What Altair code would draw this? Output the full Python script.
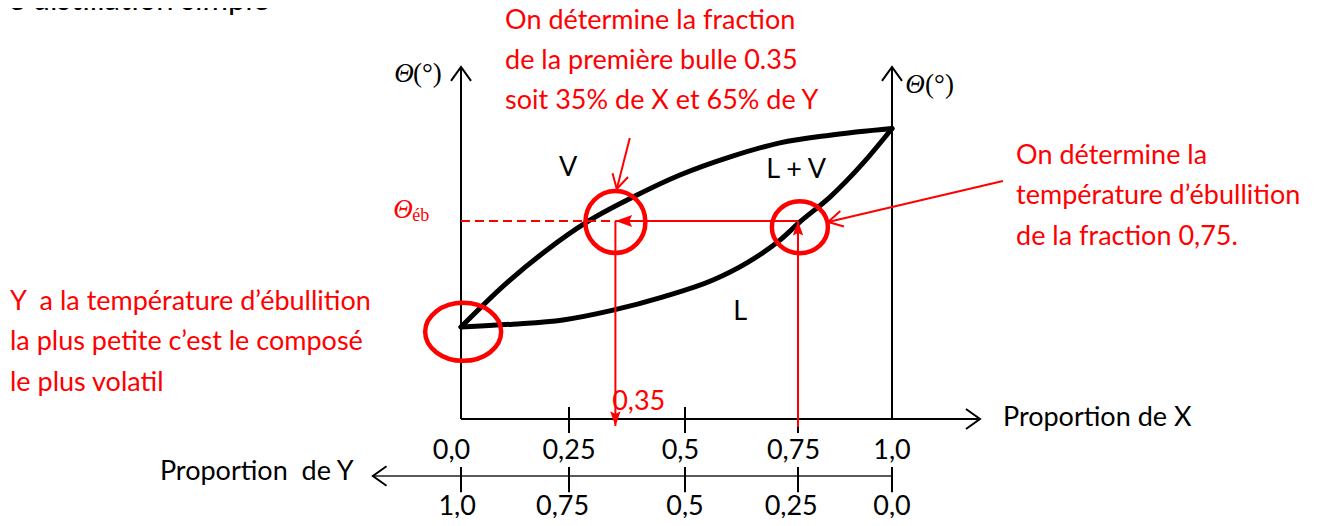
import altair as alt
import pandas as pd

# ---------------- data ----------------
# vapour (dew) curve : proportion of X  ->  temperature (arbitrary units)
vap_p = [0.0, 0.106, 0.199, 0.289, 0.388, 0.489, 0.600, 0.710, 0.835, 1.0]
vap_t = [26.3, 38.9, 48.3, 56.3, 63.4, 69.7, 74.9, 78.9, 81.1, 83.0]
# liquid (boiling) curve
liq_p = [0.0, 0.120, 0.236, 0.345, 0.453, 0.562, 0.637, 0.710, 0.755, 0.835, 0.923, 1.0]
liq_t = [26.3, 27.1, 28.3, 31.1, 34.9, 39.7, 44.6, 51.1, 56.3, 63.4, 73.1, 83.0]

tick_x = [0.0, 0.25, 0.5, 0.75, 1.0]
labels_x = ["0,0", "0,25", "0,5", "0,75", "1,0"]
labels_x_pos = [-0.022, 0.25, 0.49, 0.74, 1.0]
labels_y = ["1,0", "0,75", "0,5", "0,25", "0,0"]
labels_y_pos = [-0.009, 0.235, 0.50, 0.735, 1.0]

x_bubble = 0.35      # first bubble fraction
x_fraction = 0.75    # heated fraction
t_eb = 56.6          # boiling temperature of the fraction

# axis extents (data units)
t_top = 100.6
x_end = 1.234
t_lower_axis = -16.3
x_lower_start = -0.204

NB = "\u00a0"
# annotation texts
blockA = ["On détermine la fraction", "de la première bulle 0.35", "soit 35% de X et 65% de Y"]
blockA_p = [0.102, 0.102, 0.102]
blockA_t = [113.7, 102.3, 90.9]
blockB = ["On détermine la", "température d’ébullition", "de la fraction 0,75."]
blockB_p = [1.330, 1.330, 1.330]
blockB_t = [75.1, 63.7, 52.0]
blockC = ["Y" + NB + NB + "a la température d’ébullition", "la plus petite c’est le composé", "le plus volatil"]
blockC_p = [-1.044, -1.044, -1.044]
blockC_t = [33.4, 22.0, 10.3]

region_text = ["V", "L + V", "L"]
region_p = [0.248, 0.746, 0.622]
region_t = [71.7, 71.1, 30.6]

# circles (centres)
circ_p = [0.005, 0.35, 0.755]
circ_t = [24.9, 56.3, 54.8]

# ---------------- scales ----------------
xs = alt.Scale(domain=[0, 0.25, 0.5, 0.75, 1.0], range=[453, 561, 677, 790, 884], nice=False, zero=False)
ys = alt.Scale(domain=[0, 100], range=[411, 61], nice=False, zero=False)

RED = "#ff0000"
FONT = "Lato"
FS = 27


def X(f="x"):
    return alt.X(f"{f}:Q", scale=xs, axis=None)


def Y(f="y"):
    return alt.Y(f"{f}:Q", scale=ys, axis=None)


def segs(rows, color="black", width=2.0, dash=None):
    df = pd.DataFrame(rows, columns=["x", "y", "x2", "y2"])
    kw = dict(color=color, strokeWidth=width, strokeCap="butt")
    if dash:
        kw["strokeDash"] = dash
    return alt.Chart(df).mark_rule(**kw).encode(x=X(), y=Y(), x2="x2:Q", y2="y2:Q")


def texts(t, p, v, **kw):
    df = pd.DataFrame({"t": t, "x": p, "y": v})
    return alt.Chart(df).mark_text(**kw).encode(x=X(), y=Y(), text="t:N")


def symbol(p, v, path, size, angle=0, filled=False, color="black", width=2.0):
    df = pd.DataFrame({"x": p, "y": v})
    kw = dict(shape=path, size=size, angle=angle, filled=filled, opacity=1,
              strokeWidth=width, color=color)
    if filled:
        kw["strokeWidth"] = 0
    return alt.Chart(df).mark_point(**kw).encode(x=X(), y=Y())


def ellipse(r):
    k = 0.5523
    return (f"M 1 0 C 1 {k*r:.3f} {k:.3f} {r:.3f} 0 {r:.3f} "
            f"C {-k:.3f} {r:.3f} -1 {k*r:.3f} -1 0 "
            f"C -1 {-k*r:.3f} {-k:.3f} {-r:.3f} 0 {-r:.3f} "
            f"C {k:.3f} {-r:.3f} 1 {-k*r:.3f} 1 0 Z")


OPEN_ARROW = "M -1 1.4 L 0 0 L 1 1.4"
FILLED_ARROW = "M 0 0 L -1 2.8 L 0 2.3 L 1 2.8 Z"

layers = []

# ---- axes ----
layers.append(segs([
    [0, 0, x_end, 0],
    [0, 0, 0, t_top],
    [1, 0, 1, t_top],
], width=2))
layers.append(segs([[x, 3.4, x, -4.0] for x in tick_x[1:4]], width=2))
layers.append(segs([[x_lower_start, t_lower_axis, 1, t_lower_axis]], width=1.6, color="#222"))
layers.append(segs([[x, -13.7, x, -20.9] for x in tick_x], width=2))
layers.append(symbol([0, 1], [t_top, t_top], OPEN_ARROW, 400, 0))
layers.append(symbol([x_end], [0], OPEN_ARROW, 400, 90))
layers.append(symbol([x_lower_start], [t_lower_axis], OPEN_ARROW, 380, 270))

# ---- curves ----
cv = pd.DataFrame({"x": vap_p, "y": vap_t, "o": range(len(vap_p))})
cl = pd.DataFrame({"x": liq_p, "y": liq_t, "o": range(len(liq_p))})
for d in (cv, cl):
    layers.append(alt.Chart(d).mark_line(color="black", strokeWidth=5, interpolate="monotone",
                                         strokeCap="round", strokeJoin="round")
                  .encode(x=X(), y=Y(), order="o:Q"))

# ---- red construction lines ----
layers.append(segs([[0, t_eb, x_bubble, t_eb]], color=RED, width=2, dash=[9, 5]))
layers.append(segs([
    [x_bubble, t_eb, x_fraction, t_eb],
    [x_bubble, t_eb, x_bubble, -2.0],
    [x_fraction, -2.3, x_fraction, t_eb],
    [0.381, 80.3, 0.353, 65.7],
    [1.295, 68.0, 0.830, 56.3],
], color=RED, width=2))
layers.append(symbol([x_bubble], [t_eb], FILLED_ARROW, 144, 270, filled=True, color=RED))
layers.append(symbol([x_bubble], [-2.0], FILLED_ARROW, 110, 180, filled=True, color=RED))
layers.append(symbol([x_fraction], [t_eb], FILLED_ARROW, 110, 0, filled=True, color=RED))
layers.append(symbol([0.353], [65.7], "M -1 1.8 L 0 0 L 1 1.8", 256, 194, color=RED, width=2))
layers.append(symbol([0.830], [56.3], "M -1 1.8 L 0 0 L 1 1.8", 256, 257, color=RED, width=2))

# ---- circles ----
circ_rx = [38, 30, 28]
circ_ry = [29, 31, 26]
for p, v, rx, ry in zip(circ_p, circ_t, circ_rx, circ_ry):
    layers.append(symbol([p], [v], ellipse(ry / rx), (2 * rx) ** 2, 0, color=RED, width=4.5))

# ---- texts ----
layers.append(texts(["le distillation simple"], [-1.065], [116.9], font=FONT, fontSize=31,
                    align="left", baseline="alphabetic", color="black"))
red_kw = dict(font=FONT, fontSize=FS, align="left", baseline="middle", color=RED)
layers.append(texts(blockA, blockA_p, blockA_t, **red_kw))
layers.append(texts(blockB, blockB_p, blockB_t, **red_kw))
layers.append(texts(blockC, blockC_p, blockC_t, **red_kw))
layers.append(texts(["0,35"], [0.343], [4.9], **red_kw))
blk_kw = dict(font=FONT, fontSize=FS, baseline="middle", color="black")
layers.append(texts(region_text, region_p, region_t, align="center", **blk_kw))
layers.append(texts(["Proportion de X"], [1.295], [0.3], align="left", **blk_kw))
layers.append(texts(["Proportion" + NB + NB + "de Y"], [-0.697], [-15.1], align="left", **blk_kw))
layers.append(texts(labels_x, labels_x_pos, [-9.1] * 5, align="center", **blk_kw))
layers.append(texts(labels_y, labels_y_pos, [-25.1] * 5, align="center", **blk_kw))

# theta labels
serif_it = dict(font="Liberation Serif", fontStyle="italic", fontSize=27, baseline="alphabetic")
serif = dict(font="Liberation Serif", fontSize=27, baseline="alphabetic", align="left")
layers.append(texts(["Θ", "Θ"], [-0.132, 1.061], [96.3, 93.1], align="center", color="black", **serif_it))
layers.append(texts(["(°)", "(°)"], [-0.111, 1.088], [96.3, 93.1], color="black", **serif))
layers.append(texts(["Θ"], [-0.134], [57.4], align="center", color=RED, **serif_it))
layers.append(texts(["éb"], [-0.113], [56.6], font="Liberation Serif", fontSize=18,
                    baseline="alphabetic", align="left", color=RED))

chart = alt.layer(*layers).properties(
    width=1313, height=510, padding=0,
    autosize=alt.AutoSizeParams(type="none"),
    background="white",
).configure_view(stroke=None)

chart.save("out.html", embed_options={"renderer": "svg", "actions": False})
